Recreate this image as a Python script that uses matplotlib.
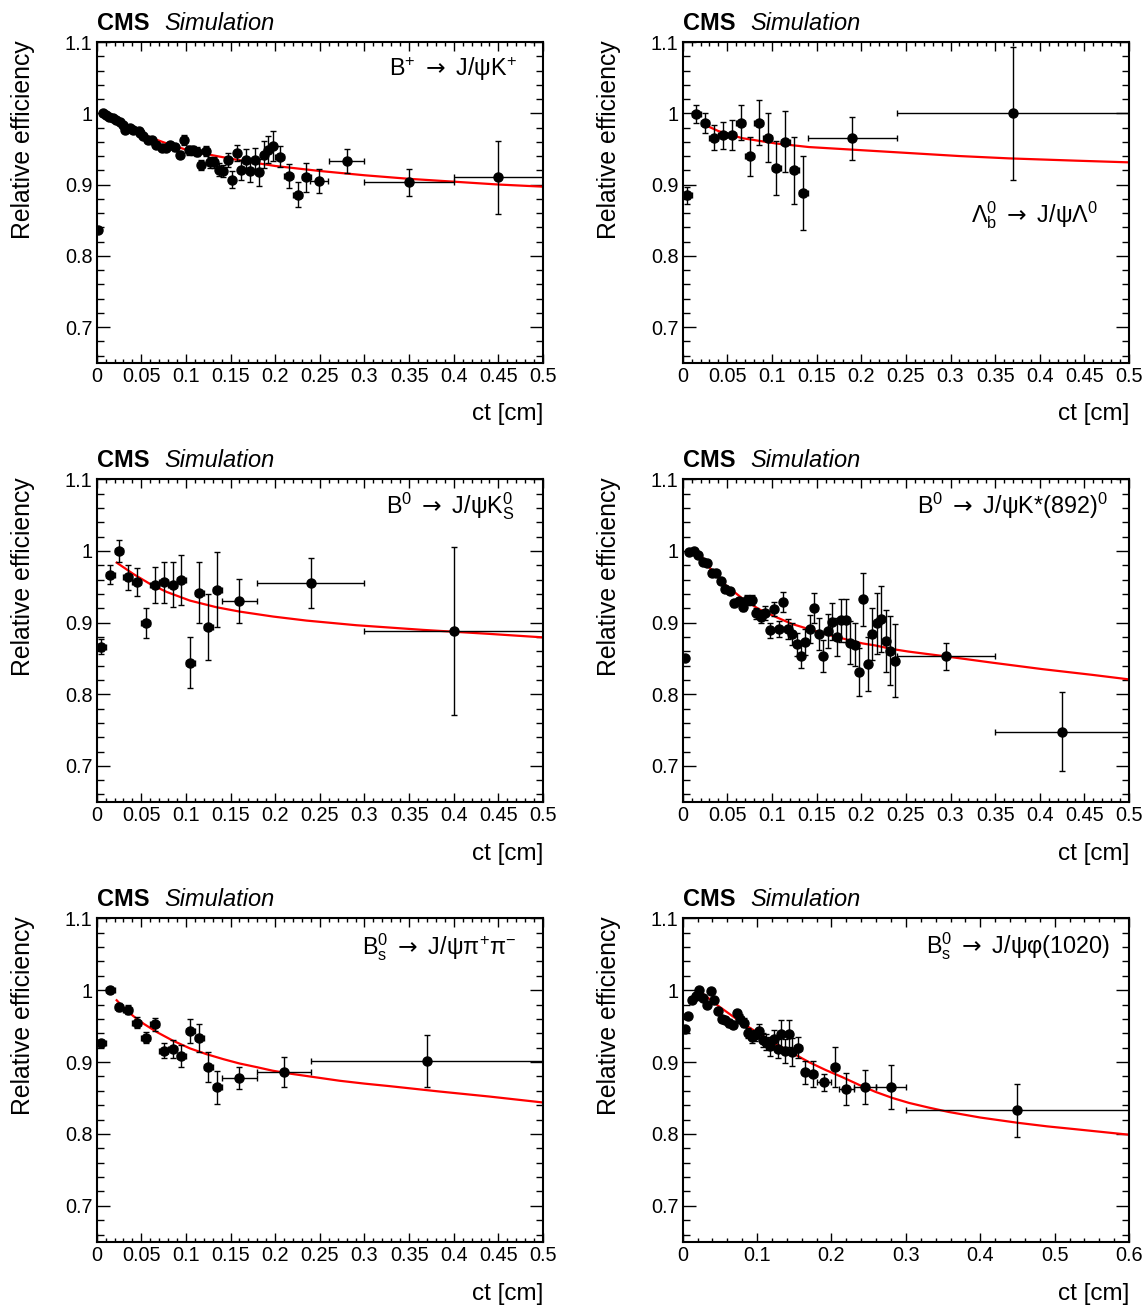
import matplotlib
matplotlib.use('Agg')
import matplotlib.pyplot as plt
from matplotlib.ticker import MultipleLocator, FuncFormatter

plt.rcParams['font.family'] = ['Liberation Sans', 'DejaVu Sans']
plt.rcParams['mathtext.fontset'] = 'custom'
plt.rcParams['mathtext.rm'] = 'Liberation Sans'
plt.rcParams['mathtext.it'] = 'Liberation Sans:italic'
plt.rcParams['mathtext.bf'] = 'Liberation Sans:bold'
plt.rcParams['mathtext.sf'] = 'DejaVu Sans'

# ---- B+ -> J/psi K+ ----
x1 = [0.002, 0.0067, 0.0104, 0.0142, 0.018, 0.022, 0.026, 0.030, 0.032, 0.037,
      0.041, 0.047, 0.049, 0.052, 0.058, 0.062, 0.067, 0.073, 0.078, 0.082,
      0.088, 0.093, 0.098, 0.103, 0.108, 0.112, 0.117, 0.122, 0.127, 0.132,
      0.137, 0.142, 0.147, 0.152, 0.157, 0.162, 0.167, 0.172, 0.177, 0.182,
      0.187, 0.192, 0.197, 0.205, 0.215, 0.225, 0.235, 0.249, 0.280, 0.350, 0.450]
y1 = [0.836, 1.000, 0.997, 0.995, 0.993, 0.991, 0.988, 0.984, 0.977, 0.979,
      0.976, 0.975, 0.973, 0.968, 0.962, 0.963, 0.956, 0.951, 0.951, 0.955,
      0.952, 0.942, 0.963, 0.948, 0.948, 0.946, 0.928, 0.947, 0.931, 0.931,
      0.921, 0.919, 0.934, 0.907, 0.944, 0.920, 0.935, 0.919, 0.934, 0.917,
      0.942, 0.949, 0.954, 0.939, 0.912, 0.886, 0.910, 0.905, 0.933, 0.903, 0.910]
ey1 = [0.003, 0.002, 0.002, 0.002, 0.002, 0.002, 0.003, 0.003, 0.003, 0.003,
       0.003, 0.003, 0.003, 0.003, 0.004, 0.004, 0.004, 0.004, 0.004, 0.005,
       0.005, 0.005, 0.007, 0.006, 0.006, 0.006, 0.007, 0.007, 0.008, 0.008,
       0.009, 0.009, 0.010, 0.012, 0.011, 0.014, 0.015, 0.016, 0.017, 0.019,
       0.019, 0.019, 0.021, 0.015, 0.017, 0.018, 0.020, 0.017, 0.017, 0.019, 0.051]
ex1 = [0.0025, 0.0025, 0.0025, 0.0025, 0.0025, 0.0025, 0.0025, 0.0025, 0.0025, 0.0025,
       0.0025, 0.0025, 0.0025, 0.0025, 0.0025, 0.0025, 0.0025, 0.0025, 0.0025, 0.0025,
       0.0025, 0.0025, 0.0025, 0.0025, 0.0025, 0.0025, 0.0025, 0.0025, 0.0025, 0.0025,
       0.0025, 0.0025, 0.0025, 0.0025, 0.0025, 0.0025, 0.0025, 0.0025, 0.0025, 0.0025,
       0.0025, 0.0025, 0.0025, 0.005, 0.005, 0.005, 0.005, 0.010, 0.020, 0.050, 0.050]
fx1 = [0.0225, 0.03, 0.04, 0.05, 0.06, 0.08, 0.10, 0.13, 0.16, 0.20, 0.25, 0.30, 0.35, 0.40, 0.45, 0.50]
fy1 = [0.994, 0.986, 0.979, 0.972, 0.966, 0.957, 0.949, 0.941, 0.934, 0.926, 0.919, 0.913, 0.908, 0.904, 0.900, 0.897]

# ---- Lambda_b -> J/psi Lambda ----
x2 = [0.005, 0.015, 0.025, 0.035, 0.045, 0.055, 0.065, 0.075, 0.085, 0.095,
      0.105, 0.115, 0.125, 0.135, 0.19, 0.37]
y2 = [0.885, 0.999, 0.987, 0.966, 0.969, 0.969, 0.987, 0.9395, 0.987, 0.966,
      0.923, 0.960, 0.920, 0.888, 0.965, 1.000]
ey2 = [0.012, 0.013, 0.014, 0.017, 0.019, 0.021, 0.024, 0.027, 0.031, 0.034,
       0.038, 0.043, 0.047, 0.052, 0.030, 0.093]
ex2 = [0.005, 0.005, 0.005, 0.005, 0.005, 0.005, 0.005, 0.005, 0.005, 0.005,
       0.005, 0.005, 0.005, 0.005, 0.050, 0.130]
fx2 = [0.0254, 0.040, 0.0665, 0.1039, 0.1413, 0.1973, 0.2534, 0.3094, 0.3655, 0.4402, 0.498]
fy2 = [0.9833, 0.975, 0.9651, 0.9577, 0.9526, 0.9484, 0.9442, 0.940, 0.9367, 0.9335, 0.9312]

# ---- B0 -> J/psi K0S ----
x3 = [0.005, 0.015, 0.025, 0.035, 0.045, 0.055, 0.065, 0.075, 0.085, 0.095,
      0.105, 0.115, 0.125, 0.135, 0.16, 0.24, 0.40]
y3 = [0.8665, 0.967, 1.000, 0.963, 0.957, 0.899, 0.953, 0.956, 0.953, 0.959,
      0.844, 0.942, 0.894, 0.946, 0.930, 0.955, 0.888]
ey3 = [0.010, 0.013, 0.015, 0.017, 0.0195, 0.021, 0.025, 0.028, 0.031, 0.035,
       0.036, 0.042, 0.046, 0.052, 0.031, 0.035, 0.117]
ex3 = [0.005, 0.005, 0.005, 0.005, 0.005, 0.005, 0.005, 0.005, 0.005, 0.005,
       0.005, 0.005, 0.005, 0.005, 0.020, 0.060, 0.100]
fx3 = [0.0224, 0.041, 0.0597, 0.0784, 0.1045, 0.1343, 0.1604, 0.1978, 0.235, 0.291, 0.3657, 0.4403, 0.4981]
fy3 = [0.9837, 0.9679, 0.954, 0.9428, 0.9307, 0.9214, 0.9153, 0.9084, 0.9028, 0.8963, 0.8898, 0.8842, 0.8795]

# ---- B0 -> J/psi K*(892)0 ----
x4 = [0.0025, 0.0075, 0.0125, 0.0175, 0.0225, 0.0275, 0.0325, 0.0375, 0.0425, 0.0475,
      0.0525, 0.0575, 0.0625, 0.0675, 0.0725, 0.0775, 0.0825, 0.0875, 0.0925, 0.0975,
      0.1025, 0.1075, 0.1125, 0.1175, 0.1225, 0.1275, 0.1325, 0.1375, 0.1425, 0.1475,
      0.1525, 0.1575, 0.1625, 0.1675, 0.1725, 0.1775, 0.1825, 0.1875, 0.1925, 0.1975,
      0.2025, 0.2075, 0.2125, 0.2175, 0.2225, 0.2275, 0.2325, 0.2375, 0.295, 0.425]
y4 = [0.851, 0.998, 1.000, 0.994, 0.984, 0.983, 0.969, 0.969, 0.958, 0.9465,
      0.944, 0.927, 0.930, 0.922, 0.932, 0.932, 0.913, 0.908, 0.913, 0.889,
      0.919, 0.891, 0.929, 0.891, 0.884, 0.870, 0.853, 0.873, 0.891, 0.920,
      0.884, 0.853, 0.888, 0.901, 0.880, 0.903, 0.903, 0.872, 0.869, 0.831,
      0.9326, 0.842, 0.884, 0.899, 0.905, 0.874, 0.861, 0.847, 0.853, 0.7474]
ey4 = [0.003, 0.002, 0.002, 0.002, 0.003, 0.003, 0.003, 0.003, 0.004, 0.004,
       0.004, 0.005, 0.005, 0.006, 0.007, 0.007, 0.008, 0.009, 0.010, 0.010,
       0.010, 0.011, 0.014, 0.014, 0.015, 0.016, 0.017, 0.018, 0.020, 0.021,
       0.022, 0.022, 0.024, 0.026, 0.027, 0.030, 0.030, 0.030, 0.030, 0.033,
       0.037, 0.038, 0.036, 0.043, 0.046, 0.043, 0.048, 0.051, 0.019, 0.055]
ex4 = [0.0025, 0.0025, 0.0025, 0.0025, 0.0025, 0.0025, 0.0025, 0.0025, 0.0025, 0.0025,
       0.0025, 0.0025, 0.0025, 0.0025, 0.0025, 0.0025, 0.0025, 0.0025, 0.0025, 0.0025,
       0.0025, 0.0025, 0.0025, 0.0025, 0.0025, 0.0025, 0.0025, 0.0025, 0.0025, 0.0025,
       0.0025, 0.0025, 0.0025, 0.0025, 0.0025, 0.0025, 0.0025, 0.0025, 0.0025, 0.0025,
       0.0025, 0.0025, 0.0025, 0.0025, 0.0025, 0.0025, 0.0025, 0.0025, 0.055, 0.075]
fx4 = [0.0228, 0.0291, 0.0478, 0.0665, 0.085, 0.104, 0.1226, 0.141, 0.16, 0.1786, 0.201, 0.216,
       0.235, 0.253, 0.296, 0.347, 0.403, 0.459, 0.498]
fy4 = [0.9898, 0.978, 0.9526, 0.934, 0.919, 0.908, 0.898, 0.891, 0.884, 0.878, 0.871, 0.868,
       0.863, 0.8595, 0.8526, 0.844, 0.835, 0.827, 0.821]

# ---- Bs -> J/psi pi+ pi- ----
x5 = [0.005, 0.015, 0.025, 0.035, 0.045, 0.055, 0.065, 0.075, 0.085, 0.095,
      0.105, 0.115, 0.125, 0.135, 0.16, 0.21, 0.37]
y5 = [0.9265, 1.000, 0.9767, 0.973, 0.955, 0.934, 0.9526, 0.916, 0.918, 0.9084,
      0.943, 0.9335, 0.893, 0.865, 0.878, 0.886, 0.901]
ey5 = [0.004, 0.004, 0.006, 0.006, 0.008, 0.008, 0.009, 0.011, 0.012, 0.015,
       0.017, 0.019, 0.021, 0.023, 0.015, 0.021, 0.036]
ex5 = [0.005, 0.005, 0.005, 0.005, 0.005, 0.005, 0.005, 0.005, 0.005, 0.005,
       0.005, 0.005, 0.005, 0.005, 0.020, 0.030, 0.130]
fx5 = [0.0224, 0.030, 0.041, 0.053, 0.067, 0.085, 0.1045, 0.123, 0.142, 0.160, 0.179, 0.197,
       0.216, 0.244, 0.272, 0.300, 0.328, 0.384, 0.440, 0.498]
fy5 = [0.986, 0.976, 0.964, 0.953, 0.942, 0.930, 0.919, 0.911, 0.904, 0.898, 0.893, 0.888,
       0.884, 0.879, 0.874, 0.870, 0.8665, 0.859, 0.852, 0.844]

# ---- Bs -> J/psi phi(1020) ----
x6 = [0.0025, 0.0075, 0.0125, 0.0175, 0.0225, 0.0275, 0.0325, 0.0375, 0.0425, 0.0475,
      0.0525, 0.0575, 0.0625, 0.0675, 0.0725, 0.0775, 0.0825, 0.0875, 0.0925, 0.0975,
      0.1025, 0.1075, 0.1125, 0.1175, 0.1225, 0.1275, 0.1325, 0.1375, 0.1425, 0.1475,
      0.155, 0.165, 0.175, 0.19, 0.205, 0.22, 0.245, 0.28, 0.45]
y6 = [0.9456, 0.9637, 0.987, 0.9916, 1.000, 0.9898, 0.979, 0.9986, 0.986, 0.9707,
      0.9605, 0.959, 0.9544, 0.952, 0.968, 0.9605, 0.955, 0.9405, 0.935, 0.937,
      0.943, 0.931, 0.928, 0.922, 0.9316, 0.9186, 0.9395, 0.915, 0.9395, 0.914,
      0.920, 0.886, 0.883, 0.872, 0.893, 0.8628, 0.865, 0.865, 0.8326]
ey6 = [0.003, 0.003, 0.003, 0.003, 0.003, 0.003, 0.003, 0.003, 0.004, 0.004,
       0.004, 0.004, 0.005, 0.005, 0.005, 0.006, 0.006, 0.007, 0.008, 0.008,
       0.010, 0.010, 0.011, 0.013, 0.013, 0.013, 0.019, 0.017, 0.019, 0.019,
       0.015, 0.016, 0.018, 0.012, 0.028, 0.022, 0.024, 0.031, 0.037]
ex6 = [0.0025, 0.0025, 0.0025, 0.0025, 0.0025, 0.0025, 0.0025, 0.0025, 0.0025, 0.0025,
       0.0025, 0.0025, 0.0025, 0.0025, 0.0025, 0.0025, 0.0025, 0.0025, 0.0025, 0.0025,
       0.0025, 0.0025, 0.0025, 0.0025, 0.0025, 0.0025, 0.0025, 0.0025, 0.0025, 0.0025,
       0.005, 0.005, 0.005, 0.010, 0.005, 0.010, 0.015, 0.020, 0.150]
fx6 = [0.0238, 0.0484, 0.0798, 0.1020, 0.1247, 0.1404, 0.1695, 0.1920, 0.2143, 0.2370, 0.2592,
       0.2820, 0.304, 0.330, 0.3578, 0.400, 0.4502, 0.490, 0.5283, 0.5978]
fy6 = [0.9977, 0.9777, 0.9544, 0.9400, 0.9256, 0.9165, 0.900, 0.8890, 0.8791, 0.8683, 0.8585,
       0.8500, 0.8432, 0.8368, 0.8305, 0.8228, 0.8155, 0.8105, 0.8065, 0.7991]

# arrow drawn from DejaVu (mathsf) so it is as long as the ROOT one
labels = [r'$\mathrm{B^{+}}\ \mathsf{\rightarrow}\ \mathrm{J/ψK^{+}}$',
          r'$\mathrm{Λ_{b}^{0}}\ \mathsf{\rightarrow}\ \mathrm{J/ψΛ^{0}}$',
          r'$\mathrm{B^{0}}\ \mathsf{\rightarrow}\ \mathrm{J/ψK_{S}^{0}}$',
          r'$\mathrm{B^{0}}\ \mathsf{\rightarrow}\ \mathrm{J/ψK{*}(892)^{0}}$',
          r'$\mathrm{B_{s}^{0}}\ \mathsf{\rightarrow}\ \mathrm{J/ψπ^{+}π^{-}}$',
          r'$\mathrm{B_{s}^{0}}\ \mathsf{\rightarrow}\ \mathrm{J/ψφ(1020)}$']
label_pos = [(0.941, 0.894), (0.931, 0.436), (0.937, 0.894),
             (0.953, 0.894), (0.941, 0.888), (0.957, 0.891)]

panels = [(x1, y1, ex1, ey1, fx1, fy1), (x2, y2, ex2, ey2, fx2, fy2),
          (x3, y3, ex3, ey3, fx3, fy3), (x4, y4, ex4, ey4, fx4, fy4),
          (x5, y5, ex5, ey5, fx5, fy5), (x6, y6, ex6, ey6, fx6, fy6)]

fig = plt.figure(figsize=(11.48, 13.05), dpi=100)
lefts = [0.0842, 0.5947]
bottoms = [0.7221, 0.3857, 0.0485]
heights = [0.2457, 0.2470, 0.2478]

fmt = FuncFormatter(lambda v, p: '%g' % round(v, 3))

for i, (x, y, ex, ey, fx, fy) in enumerate(panels):
    row, col = i // 2, i % 2
    ax = fig.add_axes([lefts[col], bottoms[row], 0.3888, heights[row]])
    xmax = 0.6 if i == 5 else 0.5

    ax.plot(fx, fy, color='red', lw=1.6, zorder=2)
    ax.errorbar(x, y, yerr=ey, xerr=ex, fmt='o', color='black', ms=6.5,
                elinewidth=1.0, capsize=2, capthick=1.0, zorder=3)

    ax.set_xlim(0, xmax)
    ax.set_ylim(0.65, 1.1)
    if i == 5:
        ax.xaxis.set_major_locator(MultipleLocator(0.1))
        ax.xaxis.set_minor_locator(MultipleLocator(0.02))
    else:
        ax.xaxis.set_major_locator(MultipleLocator(0.05))
        ax.xaxis.set_minor_locator(MultipleLocator(0.01))
    ax.yaxis.set_major_locator(MultipleLocator(0.1))
    ax.yaxis.set_minor_locator(MultipleLocator(0.02))
    ax.xaxis.set_major_formatter(fmt)
    ax.yaxis.set_major_formatter(fmt)

    ax.tick_params(which='both', direction='in', top=True, right=True, width=1.0, labelsize=14.3)
    ax.tick_params(axis='x', which='major', length=6.7, pad=3)
    ax.tick_params(axis='x', which='minor', length=3.2)
    ax.tick_params(axis='y', which='major', length=9.4, pad=3)
    ax.tick_params(axis='y', which='minor', length=5.0)
    for s in ax.spines.values():
        s.set_linewidth(1.5)

    ax.text(-0.166, 1.005, 'Relative efficiency', rotation=90, ha='center', va='top',
            fontsize=17.8, transform=ax.transAxes)
    ax.text(1.0, -0.18, 'ct [cm]', ha='right', va='baseline', fontsize=17.5, transform=ax.transAxes)
    ax.text(0.0, 1.037, 'CMS', fontweight='bold', fontsize=17, ha='left', va='baseline',
            transform=ax.transAxes)
    ax.text(0.152, 1.037, 'Simulation', style='italic', fontsize=17, ha='left', va='baseline',
            transform=ax.transAxes)
    lx, ly = label_pos[i]
    ax.text(lx, ly, labels[i], ha='right', va='baseline', fontsize=16.8, transform=ax.transAxes)

fig.savefig('out.png', dpi=100)
